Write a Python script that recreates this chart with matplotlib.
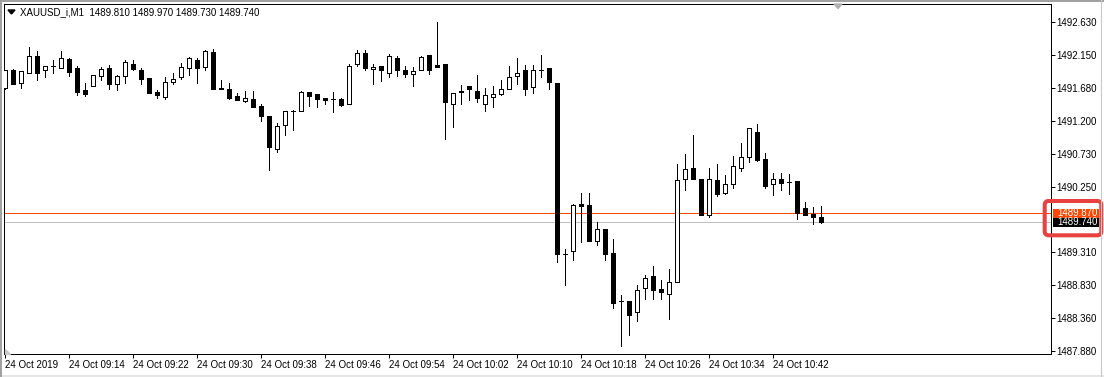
import numpy as np
import matplotlib
matplotlib.use("Agg")
import matplotlib.pyplot as plt
from matplotlib.patches import Rectangle, FancyBboxPatch, Polygon
from matplotlib.transforms import blended_transform_factory

# XAUUSD_i M1 bars, 24 Oct 2019 09:06 .. 10:48
open_ = [1491.68, 1491.94, 1491.75, 1491.90, 1492.14, 1491.93, 1492.00, 1491.96, 1492.10, 1491.97,
         1491.65, 1491.70, 1491.85, 1491.97, 1491.73, 1491.85, 1492.03, 1491.93, 1491.82, 1491.62,
         1491.55, 1491.77, 1491.83, 1491.97, 1492.08, 1491.98, 1492.20, 1491.68, 1491.67, 1491.56,
         1491.49, 1491.52, 1491.42, 1491.27, 1490.80, 1491.14, 1491.35, 1491.34, 1491.62, 1491.59,
         1491.53, 1491.52, 1491.52, 1491.44, 1492.02, 1492.18, 1491.95, 1492.00, 1491.90, 1492.11,
         1491.94, 1491.88, 1491.93, 1492.16, 1492.01, 1492.03, 1491.44, 1491.62, 1491.71, 1491.64,
         1491.44, 1491.55, 1491.59, 1491.67, 1491.85, 1491.93, 1491.69, 1491.94, 1491.96, 1491.75,
         1489.28, 1489.32, 1490.00, 1489.99, 1489.47, 1489.65, 1489.30, 1488.61, 1488.60, 1488.44,
         1488.80, 1488.96, 1488.78, 1488.70, 1488.88, 1490.36, 1490.52, 1490.37, 1489.84, 1490.35,
         1490.17, 1490.29, 1490.53, 1490.68, 1491.04, 1490.66, 1490.29, 1490.36, 1490.32, 1490.33,
         1489.94, 1489.86, 1489.81]
high = [1491.94, 1491.95, 1491.92, 1492.27, 1492.21, 1492.00, 1492.08, 1492.21, 1492.11, 1491.99,
        1491.75, 1491.86, 1491.98, 1492.01, 1491.87, 1492.08, 1492.08, 1491.97, 1491.82, 1491.65,
        1491.83, 1491.89, 1492.04, 1492.13, 1492.11, 1492.23, 1492.24, 1491.80, 1491.75, 1491.60,
        1491.64, 1491.64, 1491.45, 1491.28, 1491.17, 1491.35, 1491.36, 1491.63, 1491.62, 1491.59,
        1491.53, 1491.62, 1491.54, 1492.03, 1492.23, 1492.23, 1492.02, 1492.00, 1492.17, 1492.14,
        1492.00, 1491.98, 1492.14, 1492.16, 1492.63, 1492.03, 1491.60, 1491.72, 1491.71, 1491.87,
        1491.68, 1491.71, 1491.79, 1491.99, 1492.11, 1492.01, 1492.01, 1492.15, 1491.96, 1491.75,
        1489.35, 1490.01, 1490.17, 1490.17, 1489.74, 1489.65, 1489.50, 1488.69, 1488.60, 1488.84,
        1488.98, 1489.11, 1488.91, 1489.07, 1490.58, 1490.73, 1491.00, 1490.37, 1490.52, 1490.58,
        1490.42, 1490.69, 1490.88, 1491.10, 1491.16, 1490.74, 1490.45, 1490.45, 1490.44, 1490.33,
        1490.03, 1489.96, 1489.97]
low = [1491.67, 1491.73, 1491.68, 1491.90, 1491.79, 1491.84, 1491.90, 1491.96, 1491.85, 1491.58,
       1491.56, 1491.70, 1491.79, 1491.67, 1491.65, 1491.75, 1491.93, 1491.74, 1491.60, 1491.54,
       1491.52, 1491.73, 1491.81, 1491.87, 1491.75, 1491.93, 1491.67, 1491.66, 1491.52, 1491.50,
       1491.47, 1491.41, 1491.20, 1490.50, 1490.75, 1491.00, 1491.07, 1491.34, 1491.42, 1491.41,
       1491.44, 1491.33, 1491.42, 1491.44, 1492.00, 1491.93, 1491.74, 1491.78, 1491.83, 1491.85,
       1491.84, 1491.70, 1491.93, 1491.88, 1491.98, 1490.94, 1491.11, 1491.45, 1491.51, 1491.47,
       1491.35, 1491.41, 1491.57, 1491.67, 1491.74, 1491.57, 1491.61, 1491.84, 1491.66, 1489.17,
       1488.84, 1489.19, 1489.46, 1489.47, 1489.42, 1489.19, 1488.51, 1487.96, 1488.11, 1488.31,
       1488.63, 1488.63, 1488.63, 1488.34, 1488.88, 1490.21, 1490.37, 1489.84, 1489.82, 1490.12,
       1490.15, 1490.23, 1490.48, 1490.61, 1490.63, 1490.24, 1490.14, 1490.21, 1490.15, 1489.79,
       1489.84, 1489.71, 1489.73]
close = [1491.93, 1491.74, 1491.92, 1492.14, 1491.90, 1492.00, 1491.99, 1492.11, 1491.91, 1491.62,
         1491.59, 1491.86, 1491.95, 1491.74, 1491.85, 1492.05, 1491.95, 1491.81, 1491.61, 1491.57,
         1491.76, 1491.81, 1491.98, 1492.11, 1491.97, 1492.21, 1491.67, 1491.67, 1491.54, 1491.50,
         1491.53, 1491.41, 1491.28, 1490.83, 1491.13, 1491.35, 1491.35, 1491.62, 1491.56, 1491.52,
         1491.50, 1491.52, 1491.43, 1492.00, 1492.18, 1491.96, 1491.98, 1491.93, 1492.14, 1491.94,
         1491.88, 1491.92, 1492.12, 1491.93, 1491.98, 1491.47, 1491.60, 1491.64, 1491.67, 1491.54,
         1491.57, 1491.59, 1491.67, 1491.84, 1491.90, 1491.67, 1491.93, 1491.93, 1491.77, 1489.29,
         1489.28, 1489.99, 1489.98, 1489.47, 1489.65, 1489.29, 1488.58, 1488.61, 1488.41, 1488.77,
         1488.93, 1488.76, 1488.73, 1488.88, 1490.35, 1490.51, 1490.37, 1489.84, 1490.36, 1490.15,
         1490.29, 1490.55, 1490.68, 1491.10, 1490.64, 1490.27, 1490.36, 1490.31, 1490.32, 1489.87,
         1489.85, 1489.82, 1489.74]

ask = 1489.87
bid = 1489.74

price_ticks = [1492.63, 1492.15, 1491.68, 1491.20, 1490.73, 1490.25,
               1489.31, 1488.83, 1488.36, 1487.88]
time_labels = ["24 Oct 2019", "24 Oct 09:14", "24 Oct 09:22", "24 Oct 09:30",
               "24 Oct 09:38", "24 Oct 09:46", "24 Oct 09:54", "24 Oct 10:02",
               "24 Oct 10:10", "24 Oct 10:18", "24 Oct 10:26", "24 Oct 10:34",
               "24 Oct 10:42"]
title = "XAUUSD_i,M1  1489.810 1489.970 1489.730 1489.740"

plt.rcParams['font.family'] = ['Liberation Sans', 'DejaVu Sans']
FS = 7
W, H = 1104, 377
PX = 0.72  # one pixel in points

fig = plt.figure(figsize=(W / 100, H / 100), dpi=100)
fig.patch.set_facecolor("white")

# plot area in pixels: x 4..1051, y 4..354
ax = fig.add_axes([4 / W, 1 - 354 / H, 1047 / W, 350 / H])
ax.set_facecolor("white")

o = np.array(open_)
h = np.array(high)
l = np.array(low)
c = np.array(close)
x = np.arange(len(o))
bull = c >= o

# wicks first, bodies on top
ax.vlines(x, l, h, color="black", lw=PX, antialiased=False, zorder=2)
ax.bar(x[bull], (c - o)[bull], bottom=o[bull], width=0.5, color="white",
       edgecolor="black", lw=PX, antialiased=False, zorder=3)
ax.bar(x[~bull], (c - o)[~bull], bottom=o[~bull], width=0.5, color="black",
       edgecolor="black", lw=PX, antialiased=False, zorder=3)

# ask / bid lines
ax.axhline(ask, color="#ff4500", lw=PX, antialiased=False, zorder=1)
ax.axhline(bid, color="#c0c0c0", lw=PX, antialiased=False, zorder=1)

ax.set_xlim(-0.16, 130.7)
ax.set_ylim(1487.841, 1492.889)

ax.yaxis.tick_right()
ax.set_yticks(price_ticks)
ax.set_yticklabels(["%.3f" % p for p in price_ticks], fontsize=FS)
ax.set_xticks(np.arange(0, 8 * len(time_labels), 8))
ax.set_xticklabels(time_labels, fontsize=FS, ha="left")
ax.tick_params(axis="both", length=2.6, width=PX, color="black", direction="out")
ax.tick_params(axis="y", pad=1.2)
ax.tick_params(axis="x", pad=1.5)
for s in ax.spines.values():
    s.set_linewidth(PX)
    s.set_color("black")

# price labels at the right axis
tr = blended_transform_factory(ax.transAxes, ax.transData)
bx = (1052.7 - 4) / 1047
bw = 46 / 1047
hh = 0.065
for val, col in [(ask, "#ff4500"), (bid, "black")]:
    ax.add_patch(Rectangle((bx, val - hh), bw, 2 * hh, transform=tr,
                           facecolor=col, edgecolor="none", clip_on=False, zorder=5))
    ax.text((1057 - 4) / 1047, val, "%.3f" % val, transform=tr, color="white",
            fontsize=FS, va="center", ha="left", clip_on=False, zorder=6)

# overlay in pixel coords for window decorations
ov = fig.add_axes([0, 0, 1, 1], zorder=10)
ov.set_xlim(0, W)
ov.set_ylim(H, 0)
ov.axis("off")
ov.patch.set_alpha(0)

ov.plot([0, W], [1, 1], color="#a0a0a0", lw=1.4)
ov.plot([1, 1], [0, H], color="#a0a0a0", lw=1.4)
ov.plot([1101, 1101], [0, H], color="#c8c8c8", lw=0.8)
ov.add_patch(Rectangle((0, 374.5), W, 3, facecolor="#e6e6e6", edgecolor="none"))

# title with dropdown triangle
ov.add_patch(Polygon([(8, 10), (15, 10), (11.5, 14)], closed=True, color="black"))
ov.text(20, 12.5, title, fontsize=FS, va="center", ha="left", color="black")

# chart shift marker and corner marker
ov.add_patch(Polygon([(834, 4), (842, 4), (838, 8.5)], closed=True, color="#b0b0b0"))
ov.add_patch(Polygon([(5, 349), (5, 353.5), (10, 353.5)], closed=True, color="#c8c8c8"))

# red highlight around the price labels
ov.add_patch(FancyBboxPatch((1044.7, 201), 56.6, 34.3,
                            boxstyle="round,pad=0,rounding_size=4",
                            facecolor="none", edgecolor="#e8413f", lw=2.9))

fig.savefig("out.png", dpi=100)
